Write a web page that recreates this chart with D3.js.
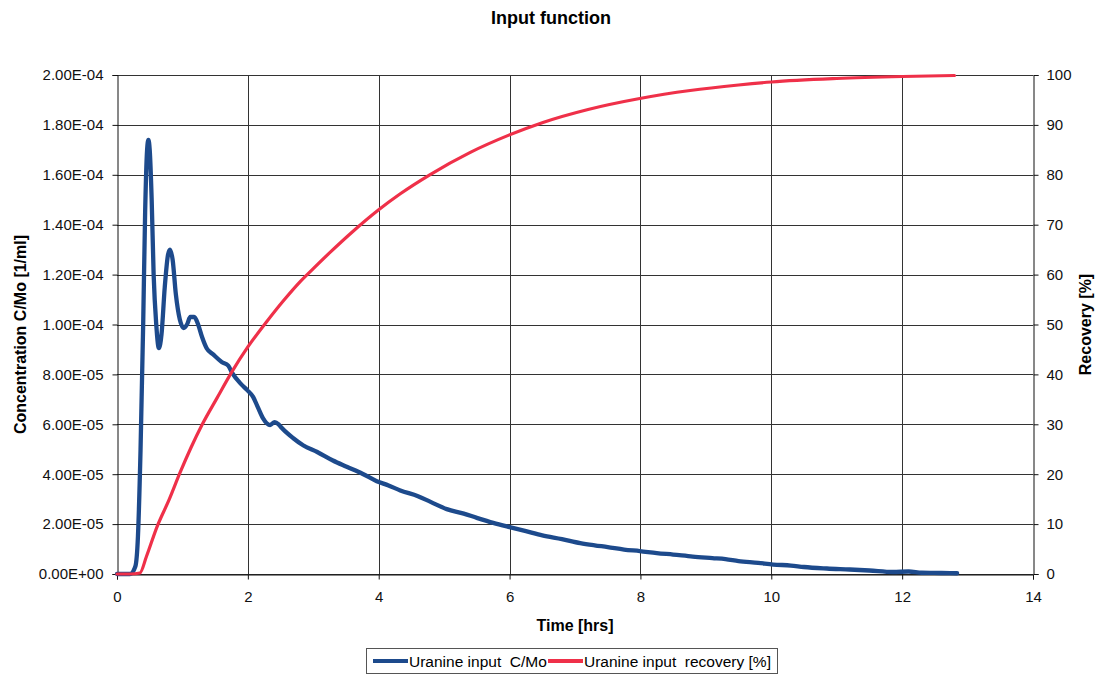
<!DOCTYPE html>
<html>
<head>
<meta charset="utf-8">
<script src="https://cdn.jsdelivr.net/npm/d3@7"></script>
<style>
  html, body { margin: 0; padding: 0; background: #fff; }
  svg { display: block; font-family: "Liberation Sans", Arial, sans-serif; }
</style>
</head>
<body>
<svg id="chart" width="1101" height="675"></svg>
<script>
// Uranine tracer input: concentration C/Mo [1/ml] against time [hrs]
const timeConc = [0, 0.1, 0.2, 0.28, 0.32, 0.36, 0.40, 0.43, 0.46, 0.48, 0.50, 0.53, 0.56, 0.60, 0.64,
  0.68, 0.73, 0.78, 0.81, 0.85, 0.90, 0.96, 1.02, 1.07, 1.12, 1.18, 1.24, 1.30, 1.37, 1.47, 1.60,
  1.70, 1.76, 1.90, 1.99, 2.08, 2.15, 2.23, 2.34, 2.41, 2.47, 2.52, 2.69, 2.85, 3.06, 3.30, 3.52,
  3.75, 3.97, 4.15, 4.33, 4.60, 4.80, 5.04, 5.30, 5.50, 5.75, 6.00, 6.25, 6.50, 6.80, 7.08, 7.30,
  7.50, 7.75, 7.99, 8.25, 8.50, 8.80, 9.10, 9.30, 9.50, 9.80, 10.03, 10.30, 10.50, 10.85, 11.20,
  11.50, 11.86, 12.10, 12.30, 12.60, 12.84];
const concCMo = [0, 0, 0, 0.3e-5, 1.5e-5, 5e-5, 10e-5, 14.5e-5, 17e-5, 17.4e-5, 17e-5, 15e-5, 12e-5,
  10e-5, 9.05e-5, 9.6e-5, 11.5e-5, 12.8e-5, 13.0e-5, 12.6e-5, 11.2e-5, 10.2e-5, 9.86e-5, 10.0e-5,
  10.3e-5, 10.3e-5, 10.0e-5, 9.5e-5, 9.05e-5, 8.8e-5, 8.5e-5, 8.35e-5, 8.06e-5, 7.6e-5, 7.37e-5,
  7.1e-5, 6.7e-5, 6.25e-5, 5.97e-5, 6.09e-5, 6.0e-5, 5.85e-5, 5.45e-5, 5.15e-5, 4.89e-5, 4.55e-5,
  4.29e-5, 4.02e-5, 3.72e-5, 3.55e-5, 3.35e-5, 3.12e-5, 2.88e-5, 2.6e-5, 2.42e-5, 2.25e-5, 2.05e-5,
  1.88e-5, 1.72e-5, 1.55e-5, 1.40e-5, 1.24e-5, 1.15e-5, 1.08e-5, 0.98e-5, 0.92e-5, 0.84e-5, 0.78e-5,
  0.70e-5, 0.64e-5, 0.60e-5, 0.52e-5, 0.45e-5, 0.38e-5, 0.34e-5, 0.28e-5, 0.22e-5, 0.18e-5, 0.14e-5,
  0.08e-5, 0.10e-5, 0.05e-5, 0.04e-5, 0.03e-5];

// Cumulative recovery [%] against time [hrs]
const timeRecovery = [0, 0.2, 0.35, 0.45, 0.61, 0.80, 0.96, 1.13, 1.30, 1.53, 1.76, 2.00, 2.29, 2.54,
  2.80, 3.00, 3.26, 3.60, 3.99, 4.33, 4.78, 5.40, 5.98, 6.51, 7.20, 7.99, 8.76, 9.50, 10.00, 11.00,
  12.00, 12.80];
const recoveryPct = [0, 0, 0.2, 3.5, 9.4, 15, 20.2, 25.3, 29.9, 35.3, 40.6, 45.5, 50.6, 54.7,
  58.6, 61.2, 64.5, 68.6, 72.9, 76.2, 80.0, 84.5, 87.9, 90.5, 93.1, 95.3, 96.9, 98.0, 98.6, 99.3,
  99.7, 99.9];

// Axis ticks
const timeTicks = [0, 2, 4, 6, 8, 10, 12, 14];
const concTicks = [0, 2e-5, 4e-5, 6e-5, 8e-5, 10e-5, 12e-5, 14e-5, 16e-5, 18e-5, 20e-5];
const recoveryTicks = [0, 10, 20, 30, 40, 50, 60, 70, 80, 90, 100];

const seriesNames = ["Uranine input  C/Mo", "Uranine input  recovery [%]"];
const seriesColors = ["#1d4a8c", "#ef3049"];

const svg = d3.select("#chart");
const plot = { left: 117, right: 1033, top: 75, bottom: 574 };

const x = d3.scaleLinear().domain([0, 14]).range([plot.left, plot.right]);
const yC = d3.scaleLinear().domain([0, 2e-4]).range([plot.bottom, plot.top]);
const yR = d3.scaleLinear().domain([0, 100]).range([plot.bottom, plot.top]);

// Excel-style scientific labels, e.g. 2.00E-04
function sci(v) {
  const [m, e] = v.toExponential(2).split("e");
  const n = parseInt(e, 10);
  return m + "E" + (n < 0 ? "-" : "+") + String(Math.abs(n)).padStart(2, "0");
}

// Title
svg.append("text")
  .attr("x", 551).attr("y", 24)
  .attr("text-anchor", "middle")
  .attr("font-size", 18).attr("font-weight", "bold")
  .text("Input function");

// Grid
const grid = svg.append("g").attr("stroke", "#333").attr("stroke-width", 1);
grid.selectAll("line.h").data(concTicks).join("line")
  .attr("x1", plot.left).attr("x2", plot.right)
  .attr("y1", d => Math.round(yC(d)) + 0.5).attr("y2", d => Math.round(yC(d)) + 0.5);
grid.selectAll("line.v").data(timeTicks.slice(1, -1)).join("line")
  .attr("y1", plot.top).attr("y2", plot.bottom)
  .attr("x1", d => Math.round(x(d)) + 0.5).attr("x2", d => Math.round(x(d)) + 0.5);

// Axes
function styleAxis(g) {
  g.selectAll("path.domain").attr("stroke", "#111");
  g.selectAll(".tick line").attr("stroke", "#111");
  g.selectAll(".tick text").attr("font-size", 15).attr("fill", "#111")
    .attr("font-family", "'Liberation Sans', Arial, sans-serif");
}

svg.append("g")
  .attr("transform", `translate(${plot.left + 0.5},0)`)
  .call(d3.axisLeft(yC).tickValues(concTicks).tickFormat(sci).tickSizeOuter(0).tickSize(5).tickPadding(9))
  .call(styleAxis);

svg.append("g")
  .attr("transform", `translate(${plot.right + 0.5},0)`)
  .call(d3.axisRight(yR).tickValues(recoveryTicks).tickFormat(d3.format("d")).tickSizeOuter(0).tickSize(5).tickPadding(8))
  .call(styleAxis);

svg.append("g")
  .attr("transform", `translate(0,${plot.bottom + 0.5})`)
  .call(d3.axisBottom(x).tickValues(timeTicks).tickFormat(d3.format("d")).tickSizeOuter(0).tickSize(5).tickPadding(12))
  .call(styleAxis);

// Axis titles
svg.append("text")
  .attr("transform", `translate(26,${(plot.top + plot.bottom) / 2 + 10}) rotate(-90)`)
  .attr("text-anchor", "middle")
  .attr("font-size", 16).attr("font-weight", "bold")
  .text("Concentration C/Mo [1/ml]");

svg.append("text")
  .attr("transform", `translate(1091,${(plot.top + plot.bottom) / 2}) rotate(-90)`)
  .attr("text-anchor", "middle")
  .attr("font-size", 16).attr("font-weight", "bold")
  .text("Recovery [%]");

svg.append("text")
  .attr("x", 575).attr("y", 631)
  .attr("text-anchor", "middle")
  .attr("font-size", 16).attr("font-weight", "bold")
  .text("Time [hrs]");

// Series
const concLine = d3.line()
  .x((d, i) => x(timeConc[i]))
  .y(d => yC(d))
  .curve(d3.curveMonotoneX);

const recLine = d3.line()
  .x((d, i) => x(timeRecovery[i]))
  .y(d => yR(d))
  .curve(d3.curveMonotoneX);

svg.append("path")
  .datum(concCMo)
  .attr("fill", "none")
  .attr("stroke", seriesColors[0])
  .attr("stroke-width", 4.3)
  .attr("stroke-linejoin", "round")
  .attr("stroke-linecap", "round")
  .attr("d", concLine);

svg.append("path")
  .datum(recoveryPct)
  .attr("fill", "none")
  .attr("stroke", seriesColors[1])
  .attr("stroke-width", 3.2)
  .attr("stroke-linejoin", "round")
  .attr("stroke-linecap", "round")
  .attr("d", recLine);

// Legend
const legend = svg.append("g");
legend.append("rect")
  .attr("x", 366.5).attr("y", 648.5).attr("width", 411).attr("height", 25)
  .attr("fill", "#fff").attr("stroke", "#555").attr("stroke-width", 1);

const legendItems = [
  { name: seriesNames[0], color: seriesColors[0], x0: 373 },
  { name: seriesNames[1], color: seriesColors[1], x0: 548 }
];
legendItems.forEach(item => {
  legend.append("line")
    .attr("x1", item.x0).attr("x2", item.x0 + 35)
    .attr("y1", 661).attr("y2", 661)
    .attr("stroke", item.color).attr("stroke-width", 4);
  legend.append("text")
    .attr("x", item.x0 + 36).attr("y", 666.5)
    .attr("font-size", 15.5)
    .attr("xml:space", "preserve")
    .style("white-space", "pre")
    .text(item.name);
});
</script>
</body>
</html>
